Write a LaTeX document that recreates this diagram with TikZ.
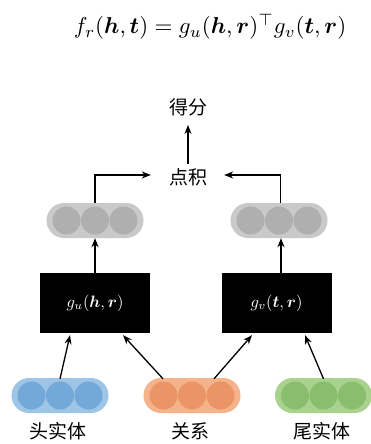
\documentclass[tikz,border=0pt]{standalone}
\usepackage{amsmath,bm}
\usepackage{fontspec}
\newfontfamily\cjk{Noto Sans CJK SC}
\usetikzlibrary{shapes.misc,arrows.meta,calc}
\definecolor{grayO}{HTML}{C9C9C9}
\definecolor{grayI}{HTML}{AFAFAF}
\definecolor{blueO}{HTML}{9EC4E6}
\definecolor{blueI}{HTML}{73A9D9}
\definecolor{orgO}{HTML}{F4B38A}
\definecolor{orgI}{HTML}{EB9466}
\definecolor{grnO}{HTML}{AAD28F}
\definecolor{grnI}{HTML}{88BE6D}
\tikzset{
  pill/.style={rounded rectangle, minimum width=97pt, minimum height=35pt, inner sep=0pt, draw=none},
  dot/.style={circle, minimum size=28pt, inner sep=0pt, draw=none},
  blackbox/.style={fill=black, minimum width=110pt, minimum height=60pt, inner sep=0pt, text=white},
  lbl/.style={font=\cjk\fontsize{19}{22}\selectfont, inner sep=0pt},
  arr/.style={-{Stealth[length=9pt,width=7pt]}, line width=1.3pt}
}
\newcommand{\mypill}[4]{%
  \node[pill, fill=#3] (#1) at #2 {};
  \node[dot, fill=#4] (#1a) at ($#2+(-28.5,0)$) {};
  \node[dot, fill=#4] (#1b) at #2 {};
  \node[dot, fill=#4] (#1c) at ($#2+(28.5,0)$) {};
}
\begin{document}
\begin{tikzpicture}[x=1pt,y=-1pt]
\useasboundingbox (0,0) rectangle (371,444);
\node[inner sep=0pt] (formula) at (210,27) {\scalebox{2.3}{$f_r(\bm{h},\bm{t}) = g_u(\bm{h},\bm{r})^{\top} g_v(\bm{t},\bm{r})$}};
\node[lbl] (score) at (188,107) {得分};
\node[lbl] (dot) at (188,177) {点积};
\mypill{lout}{(95,220.5)}{grayO}{grayI}
\mypill{rout}{(279,220.5)}{grayO}{grayI}
\node[blackbox] (gu) at (95,303) {\scalebox{1.65}{$g_u(\bm{h},\bm{r})$}};
\node[blackbox] (gv) at (276.5,303) {\scalebox{1.65}{$g_v(\bm{t},\bm{r})$}};
\mypill{head}{(60,395.5)}{blueO}{blueI}
\mypill{rel}{(192,395.5)}{orgO}{orgI}
\mypill{tail}{(323.5,395.5)}{grnO}{grnI}
\node[lbl] (headl) at (58,431) {头实体};
\node[lbl] (rell) at (190,431) {关系};
\node[lbl] (taill) at (322,431) {尾实体};
\draw[arr] ($(dot.north)+(0,-4)$) -- (score.south |- 0,125);
\draw[arr] (lout.north) |- ($(dot.west)+(-18,-2)$);
\draw[arr] ([xshift=1.5pt]rout.north) |- ($(dot.east)+(17,-2)$);
\draw[arr] (gu.north) -- (lout.south);
\draw[arr] ([xshift=4.5pt]gv.north) -- ([xshift=4.5pt]gv.north |- rout.south);
\draw[arr] ($(head.north)+(0,1)$) -- ($(gu.south)+(-25,2)$);
\draw[arr] ($(rel.north)+(-29,1)$) -- ($(gu.south)+(28,2)$);
\draw[arr] ($(rel.north)+(22,1)$) -- ($(gv.south)+(-24.5,2)$);
\draw[arr] ($(tail.north)+(0,1)$) -- ($(gv.south)+(28.5,2)$);
\end{tikzpicture}
\end{document}
